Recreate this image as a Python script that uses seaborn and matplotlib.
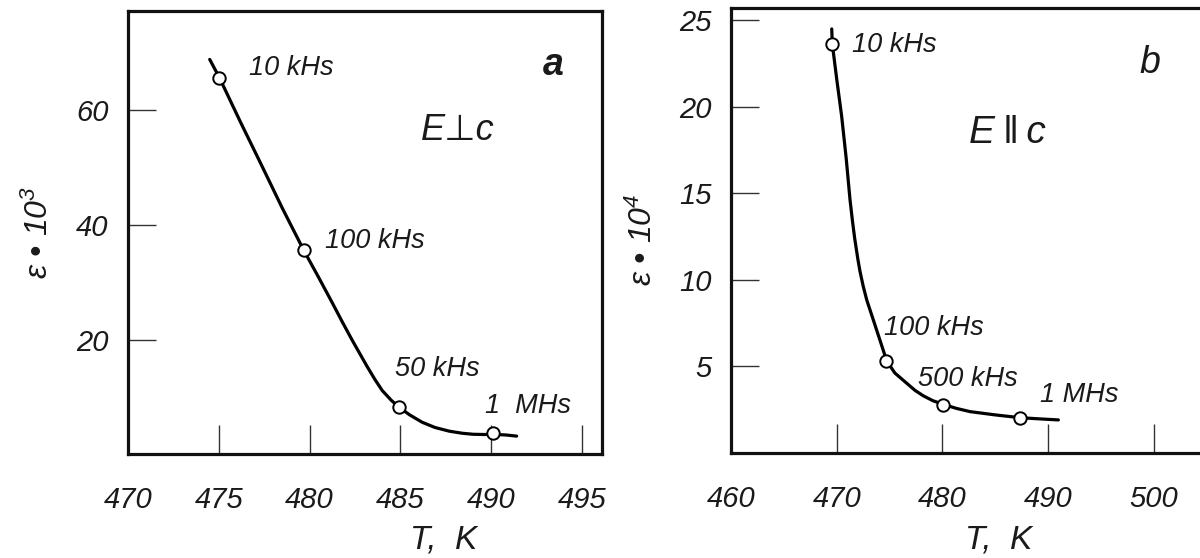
import matplotlib
matplotlib.use("Agg")
import matplotlib.pyplot as plt
import seaborn as sns
import pandas as pd

# ---------------- data ----------------
# panel a : E perpendicular c, eps * 10^3
a_curve_T = [474.5, 475.04, 476.2, 477.38, 478.5, 479.68, 480.5, 481.25,
             481.8, 482.35, 482.8, 483.18, 483.6, 484.0, 484.5, 484.93,
             485.5, 486.2, 486.9, 487.7, 488.4, 489.0, 489.6, 490.1, 490.8, 491.4]
a_curve_eps = [68.7, 65.5, 57.8, 50.2, 42.9, 35.6, 30.9, 26.5,
               23.2, 20.0, 17.5, 15.4, 13.2, 11.3, 9.6, 8.4,
               7.1, 5.8, 4.9, 4.25, 3.9, 3.72, 3.68, 3.7, 3.6, 3.4]
a_pts_T = [475.0, 479.7, 484.9, 490.1]
a_pts_eps = [65.5, 35.6, 8.4, 3.9]
a_labels = ["10 kHs", "100 kHs", "50 kHs", "1  MHs"]
a_xticks = [470, 475, 480, 485, 490, 495]
a_yticks = [20, 40, 60]

# panel b : E parallel c, eps * 10^4
b_curve_T = [469.53, 469.58, 470.0, 470.47, 470.9, 471.26, 471.5, 471.7,
             472.0, 472.2, 472.5, 472.84, 473.46, 474.1, 474.73, 475.5,
             476.62, 477.4, 478.2, 479.1, 480.09, 481.3, 482.61, 485.0,
             487.34, 489.2, 490.97]
b_curve_eps = [24.49, 23.64, 21.6, 19.44, 17.0, 14.62, 13.35, 12.4,
               11.2, 10.5, 9.65, 8.84, 7.69, 6.5, 5.32, 4.62,
               4.03, 3.62, 3.3, 3.02, 2.81, 2.58, 2.39, 2.2,
               2.04, 1.97, 1.91]
b_pts_T = [469.6, 474.7, 480.1, 487.3]
b_pts_eps = [23.6, 5.3, 2.8, 2.0]
b_labels = ["10 kHs", "100 kHs", "500 kHs", "1 MHs"]
b_xticks = [460, 470, 480, 490, 500]
b_yticks = [5, 10, 15, 20, 25]

# label offsets in pixels (dx, dy) relative to the points
a_offsets = [(30, 10), (21, 9), (-4, 38), (-8, 27)]
b_offsets = [(20, -1), (-2, 33), (-25, 26), (20, 23)]

# ---------------- style ----------------
sns.set_theme(style="white")
FAM = ["Liberation Sans", "DejaVu Sans"]
plt.rcParams["font.family"] = FAM
plt.rcParams["mathtext.fontset"] = "custom"
plt.rcParams["mathtext.rm"] = "Liberation Sans:italic"
plt.rcParams["mathtext.it"] = "Liberation Sans:italic"

fig = plt.figure(figsize=(12, 5.58), dpi=100)
W, H = 1200, 558
axA = fig.add_axes([128 / W, (H - 454) / H, 474 / W, 443 / H])
axB = fig.add_axes([731 / W, (H - 453) / H, 500 / W, 445 / H])

TXT = "#1a1a1a"


def panel(ax, cT, cE, pT, pE, labels, offsets, xlim, ylim, xticks, yticks,
          ylabel, ylab_pos, xlab_pos):
    sns.lineplot(x=cT, y=cE, ax=ax, sort=False, estimator=None,
                 color="black", linewidth=2.3, zorder=2)
    sns.scatterplot(x=pT, y=pE, ax=ax, marker="o", s=80, color="white",
                    edgecolor="black", linewidth=1.4, zorder=3)
    for x, y, lab, (dx, dy) in zip(pT, pE, labels, offsets):
        ax.annotate(lab, xy=(x, y), xytext=(dx, dy), textcoords="offset pixels",
                    ha="left", va="center", fontsize=19.5, style="italic",
                    color=TXT)
    ax.set_xlim(*xlim)
    ax.set_ylim(*ylim)
    ax.set_xticks(xticks)
    ax.set_xticklabels([str(t) for t in xticks])
    ax.set_yticks(yticks)
    ax.set_yticklabels([str(t) for t in yticks])
    ax.tick_params(axis="x", which="major", bottom=True, direction="in",
                   length=21, width=1.0, color="#333333", pad=23,
                   labelsize=21, labelcolor=TXT)
    ax.tick_params(axis="y", which="major", left=True, direction="in",
                   length=20, width=1.0, color="#333333", pad=14,
                   labelsize=21, labelcolor=TXT)
    for lab in ax.get_xticklabels() + ax.get_yticklabels():
        lab.set_style("italic")
    for sp in ax.spines.values():
        sp.set_linewidth(2.3)
        sp.set_color("#111111")
    ax.set_xlabel("T,  K", fontsize=24, style="italic", color=TXT)
    ax.xaxis.set_label_coords(*xlab_pos)
    ax.set_ylabel(ylabel, fontsize=23, style="italic", color=TXT)
    ax.yaxis.set_label_coords(*ylab_pos)


panel(axA, a_curve_T, a_curve_eps, a_pts_T, a_pts_eps, a_labels, a_offsets,
      (470, 496.1), (0.3, 77.1), a_xticks, a_yticks,
      "ε • 10$^{3}$", (-0.155, 0.50), (0.665, -0.16))
panel(axB, b_curve_T, b_curve_eps, b_pts_T, b_pts_eps, b_labels, b_offsets,
      (460, 507.3), (0, 25.7), b_xticks, b_yticks,
      "ε • 10$^{4}$", (-0.143, 0.48), (0.536, -0.16))

axA.text(0.897, 0.878, "a", transform=axA.transAxes, fontsize=27,
         fontweight="bold", style="italic", ha="center", va="center", color=TXT)
axA.text(0.696, 0.731, "E⊥c", transform=axA.transAxes, fontsize=26,
         style="italic", ha="center", va="center", color=TXT, family=FAM)
axB.text(0.838, 0.876, "b", transform=axB.transAxes, fontsize=27,
         style="italic", ha="center", va="center", color=TXT)
axB.text(0.552, 0.719, "E\u2009‖\u2009c", transform=axB.transAxes, fontsize=28,
         style="italic", ha="center", va="center", color=TXT, family=FAM)

fig.savefig("out.png", dpi=100, facecolor="white")
